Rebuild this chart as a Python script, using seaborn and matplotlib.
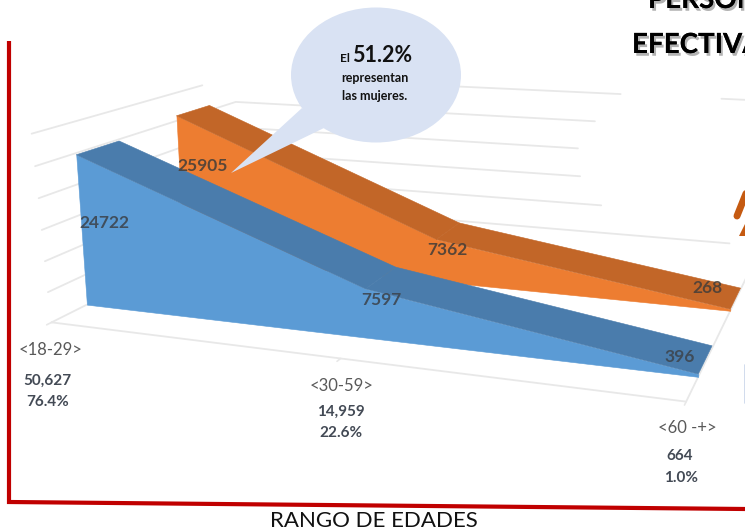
import matplotlib
matplotlib.use('Agg')
import matplotlib.pyplot as plt
import matplotlib.patheffects as pe
from matplotlib.patches import Ellipse, Polygon
from mpl_toolkits.mplot3d.art3d import Poly3DCollection
import seaborn as sns

# Data
x_pos = [0, 1, 2]
age_labels = ['<18-29>', '<30-59>', '<60 -+>']
totals = ['50,627', '14,959', '664']
shares = ['76.4%', '22.6%', '1.0%']
men = [24722, 7597, 396]
women = [25905, 7362, 268]
z_levels = [5000, 10000, 15000, 20000, 25000, 30000]

# how far each gridline runs along the walls
wall_start = [-0.01, -0.015, -0.02, -0.025, -0.033, -0.04]
back_wall_end = [1.93, 1.47, 1.39, 1.38, 1.44, 1.53]

BLUE, BLUE_TOP = '#5b9bd5', '#4a7cac'
ORANGE, ORANGE_TOP = '#ed7d31', '#c26628'
GRID = '#e8e8e8'
RED = '#c00000'
INK = '#434a55'

sns.set_theme(style='white')
plt.rcParams['font.family'] = ['Lato', 'DejaVu Sans']

W_PX, H_PX = 745, 531
fig = plt.figure(figsize=(W_PX / 100, H_PX / 100), dpi=100)

# 3D area chart, view fitted to the reference perspective
side = 723.1
ax = fig.add_axes([45.5 / W_PX, -47.8 / H_PX, side / W_PX, side / H_PX], projection='3d')
ax.set_xlim(0, 2)
ax.set_ylim(0, 2)
ax.set_zlim(0, 30000)
ax.view_init(13.683, -69.073, 0.570)
ax.set_proj_type('persp', focal_length=0.3429)
ax.set_box_aspect((1, 0.6326, 0.3056))
ax.set_axis_off()
ax.patch.set_alpha(0)
ax.computed_zorder = False


def area_band(values, y0, y1, face, top, z):
    front = [(x, y0, v) for x, v in zip(x_pos, values)]
    front += [(x, y0, 0) for x in reversed(x_pos)]
    ax.add_collection3d(Poly3DCollection([front], facecolor=face, edgecolor=face, linewidth=0.4, zorder=z),
                        autolim=False)
    quads = []
    for i in range(len(x_pos) - 1):
        quads.append([(x_pos[i], y0, values[i]), (x_pos[i + 1], y0, values[i + 1]),
                      (x_pos[i + 1], y1, values[i + 1]), (x_pos[i], y1, values[i])])
    ax.add_collection3d(Poly3DCollection(quads, facecolor=top, edgecolor=top, linewidth=0.4, zorder=z + 1),
                        autolim=False)


def grid_line(xs, ys, zs, lw=1.3):
    ax.plot(xs, ys, zs, color=GRID, lw=lw, zorder=1, clip_on=False)


# gridlines on the walls and floor
for level, start, end in zip(z_levels, wall_start, back_wall_end):
    if level == z_levels[-1]:
        grid_line([0, 0], [start, 1.6], [level, level])
        grid_line([0.7, end], [2, 2], [level, level])
        grid_line([1.88, 2], [2, 2], [level, level])
    else:
        grid_line([0, 0, end], [start, 2, 2], [level, level, level])
grid_line([0, 2, 2], [0, 0, 2], [0, 0, 0])
grid_line([0, 0], [0, 2], [0, 0])
for x in x_pos:
    grid_line([x, x], [0, -0.04], [0, 0], lw=1.2)

area_band(women, 1.2912, 1.6732, ORANGE, ORANGE_TOP, 3)
area_band(men, 0.3058, 0.6963, BLUE, BLUE_TOP, 5)

# overlay in picture pixels for the annotations
ov = fig.add_axes([0, 0, 1, 1], zorder=5)
ov.set_xlim(0, W_PX)
ov.set_ylim(H_PX, 0)
ov.axis('off')
ov.patch.set_alpha(0)

# data labels
men_xy = [(104, 223), (381, 300), (680, 357)]
women_xy = [(203, 166), (447, 250), (707, 288)]
for v, (px, py) in zip(men, men_xy):
    ov.text(px, py, str(v), ha='center', va='center', fontsize=12.5, fontweight='bold', color='#3d4650', alpha=0.9)
for v, (px, py) in zip(women, women_xy):
    ov.text(px, py, str(v), ha='center', va='center', fontsize=12.5, fontweight='bold', color='#4a4038', alpha=0.9)

# category labels
name_xy = [(51, 350), (342, 386), (687, 428)]
total_xy = [(47, 381), (341, 412), (680, 456)]
share_xy = [(48, 402), (341, 433), (681, 478)]
for i in range(3):
    ov.text(*name_xy[i], age_labels[i], ha='center', va='center', fontsize=12, color='#595959')
    ov.text(*total_xy[i], totals[i], ha='center', va='center', fontsize=11, fontweight='bold', color=INK)
    ov.text(*share_xy[i], shares[i], ha='center', va='center', fontsize=11, fontweight='bold', color=INK)

# red frame of the slide
ov.plot([9, 9, 745], [41, 502, 509], color=RED, lw=3, solid_joinstyle='miter', solid_capstyle='butt')

# speech bubble
bubble = '#d9e2f3'
ov.add_patch(Polygon([(231, 173), (302, 108), (324, 128)], closed=True, fc=bubble, ec='none'))
ov.add_patch(Ellipse((376, 75), 170, 135, fc=bubble, ec='none'))
ov.text(345, 58, 'El', ha='center', va='center', fontsize=8.5, fontweight='bold', color='#111111')
ov.text(382, 55, '51.2%', ha='center', va='center', fontsize=15.5, fontweight='bold', color='#111111')
ov.text(375, 78, 'representan', ha='center', va='center', fontsize=9, fontweight='bold', color='#111111')
ov.text(375, 96, 'las mujeres.', ha='center', va='center', fontsize=9, fontweight='bold', color='#111111')

# slide pieces cut off by the crop
shadow = [pe.withSimplePatchShadow(offset=(1.5, -2), shadow_rgbFace='#000000', alpha=0.3), pe.Normal()]
ov.text(648, 8, 'PERSON', ha='left', va='baseline', fontsize=20, fontweight='bold', color='black', path_effects=shadow)
ov.text(632, 53, 'EFECTIVA', ha='left', va='baseline', fontsize=20, fontweight='bold', color='black', path_effects=shadow)
ov.text(374, 531, 'RANGO DE EDADES', ha='center', va='bottom', fontsize=16, color='#111111')
ov.plot([749, 737], [186, 216], color='#c55a11', lw=5, solid_capstyle='round')
ov.add_patch(Polygon([(746, 222), (746, 236), (739, 236)], closed=True, fc='#c55a11', ec='none'))
ov.plot([744.5, 744.5], [365, 403], color='#c9d6ea', lw=1.2)

fig.savefig('out.png', dpi=100)
